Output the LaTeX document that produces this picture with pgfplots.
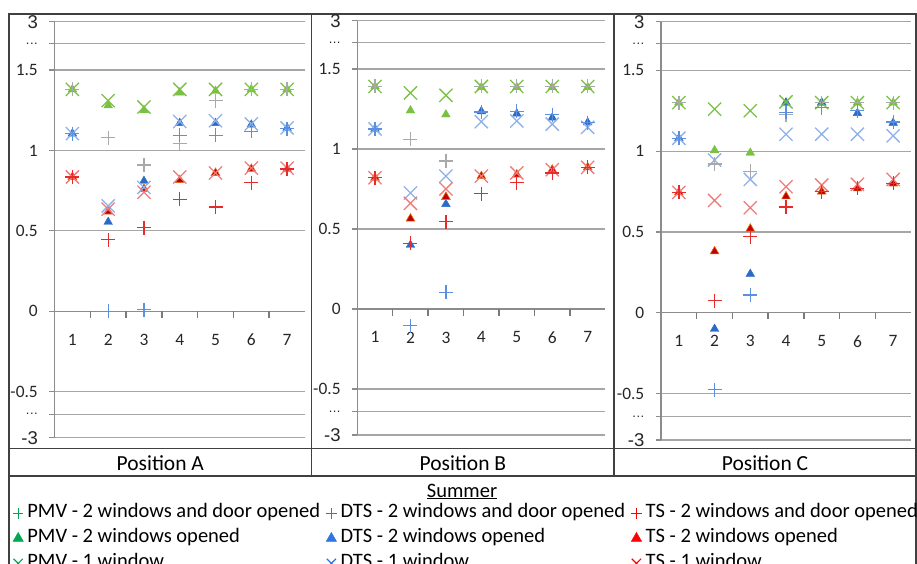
\documentclass[border=0pt]{standalone}
\usepackage{fontspec}
\setmainfont{Carlito}
\newfontfamily\arialf{Liberation Sans}
\usepackage{pgfplots}
\usepackage{pgfplotstable}
\pgfplotsset{compat=1.18}

\definecolor{gridgrey}{HTML}{A6A6A6}
\definecolor{axisgrey}{HTML}{8C8C8C}
\definecolor{tickgrey}{HTML}{7A7A7A}
\definecolor{tablec}{HTML}{404040}
\definecolor{tickc}{HTML}{262626}
\definecolor{pmvplus}{HTML}{A9A9A9}
\definecolor{pmvgreen}{HTML}{7AC143}
\definecolor{dtsplus}{HTML}{5B8FE0}
\definecolor{dtstri}{HTML}{2A6AC8}
\definecolor{dtsx}{HTML}{8EB1EA}
\definecolor{tsplus}{HTML}{E82A2A}
\definecolor{tstri}{HTML}{C00000}
\definecolor{tstriedge}{HTML}{E86A10}
\definecolor{tsx}{HTML}{F07A7A}
\definecolor{leggreen}{HTML}{00A651}
\definecolor{legblue}{HTML}{2F74E0}
\definecolor{legred}{HTML}{FF0000}

\newcommand{\tdots}{{\arialf\fontsize{13}{14}\selectfont .\kern0.5pt.\kern0.5pt.}}
\newcommand{\bigar}[1]{{\arialf\fontsize{18.5}{20}\selectfont #1}}

\pgfplotstableread{
x pmvp pmvt pmvx dtsp dtst dtsx tsp tst tsx
1 1.38 1.38 1.38 1.105 1.105 1.105 0.835 0.835 0.835
2 1.08 1.28 1.31 0.0 0.555 0.655 0.445 0.62 0.635
3 0.91 1.25 1.27 0.01 0.81 0.77 0.52 0.76 0.74
4 1.045 1.36 1.38 1.095 1.17 1.18 0.695 0.815 0.835
5 1.31 1.37 1.38 1.095 1.17 1.185 0.648 0.86 0.86
6 1.38 1.38 1.38 1.12 1.16 1.165 0.80 0.885 0.89
7 1.38 1.38 1.38 1.135 1.14 1.14 0.885 0.885 0.89
}\tableA
\pgfplotstableread{
x pmvp pmvt pmvx dtsp dtst dtsx tsp tst tsx
1 1.39 1.39 1.39 1.125 1.125 1.125 0.82 0.82 0.82
2 1.06 1.24 1.35 -0.105 0.40 0.725 0.41 0.565 0.66
3 0.925 1.215 1.335 0.105 0.655 0.83 0.545 0.70 0.75
4 1.39 1.385 1.39 1.23 1.235 1.17 0.72 0.83 0.83
5 1.39 1.385 1.39 1.235 1.22 1.175 0.79 0.84 0.85
6 1.39 1.385 1.39 1.215 1.195 1.155 0.85 0.87 0.87
7 1.39 1.385 1.39 1.165 1.165 1.135 0.885 0.885 0.885
}\tableB
\pgfplotstableread{
x pmvp pmvt pmvx dtsp dtst dtsx tsp tst tsx
1 1.30 1.30 1.30 1.08 1.08 1.08 0.745 0.745 0.745
2 0.92 1.005 1.26 -0.475 -0.10 0.945 0.075 0.38 0.695
3 0.875 0.99 1.25 0.11 0.24 0.825 0.47 0.52 0.65
4 1.225 1.30 1.305 1.24 1.30 1.105 0.655 0.72 0.78
5 1.30 1.30 1.30 1.27 1.30 1.105 0.75 0.75 0.79
6 1.30 1.30 1.30 1.25 1.235 1.105 0.77 0.77 0.795
7 1.30 1.30 1.30 1.18 1.175 1.095 0.80 0.80 0.825
}\tableC

\pgfplotsset{
  panel/.style={
    scale only axis, anchor=south west, clip=false,
    xmin=0.5, xmax=7.5, ymin=-0.787, ymax=1.801,
    axis x line*=middle, axis y line*=left,
    hide obscured x ticks=false,
    tick align=outside, major tick length=5.5pt,
    xtick={1,2,3,4,5,6,7},
    major x tick style={draw=none},
    ytick={-0.787,-0.641,-0.5,0,0.5,1,1.5,1.666,1.801},
    yticklabels={\bigar{-3},\tdots,-0.5,0,0.5,1,1.5,\tdots,\bigar{3}},
    ymajorgrids, grid style={gridgrey, line width=1.3pt},
    axis line style={axisgrey, line width=1.3pt},
    tick style={axisgrey, line width=1.3pt},
    ticklabel style={font=\fontsize{17.4}{20}\selectfont, text=tickc},
    yticklabel style={inner sep=0pt, anchor=east, xshift=-11pt},
    xticklabel style={inner sep=0pt, anchor=north, yshift=-17pt},
    /pgf/number format/assume math mode=true,
  },
  stri/.style={only marks, mark=triangle*, mark size=5pt, forget plot},
  sx/.style={only marks, mark=x, mark size=9.3pt, line width=1.3pt, forget plot},
  splus/.style={only marks, mark=+, mark size=7pt, line width=1.3pt, forget plot},
}

\newcommand{\panelplots}[1]{%
  \draw[tickgrey, line width=1.5pt]
    (axis cs:1.5,0) -- ++(0pt,-6.5pt)
    (axis cs:2.5,0) -- ++(0pt,-6.5pt)
    (axis cs:3.5,0) -- ++(0pt,-6.5pt)
    (axis cs:4.5,0) -- ++(0pt,-6.5pt)
    (axis cs:5.5,0) -- ++(0pt,-6.5pt)
    (axis cs:6.5,0) -- ++(0pt,-6.5pt);
  \addplot[stri, color=pmvgreen] table[x=x, y=pmvt] {#1};
  \addplot[stri, color=dtstri] table[x=x, y=dtst] {#1};
  \addplot[stri, draw=tstriedge, fill=tstri, mark options={line width=0.6pt}] table[x=x, y=tst] {#1};
  \addplot[sx, color=pmvgreen] table[x=x, y=pmvx] {#1};
  \addplot[sx, color=dtsx] table[x=x, y=dtsx] {#1};
  \addplot[sx, color=tsx] table[x=x, y=tsx] {#1};
  \addplot[splus, draw=pmvplus, mark options={draw=pmvplus}] table[x=x, y=pmvp] {#1};
  \addplot[splus, color=dtsplus] table[x=x, y=dtsp] {#1};
  \addplot[splus, color=tsplus] table[x=x, y=tsp] {#1};
}

\begin{document}
\begin{tikzpicture}
\draw[tablec, line width=1.2pt] (9pt,-600pt) -- (9pt,-14pt) -- (916pt,-14pt) -- (916pt,-600pt);
\draw[tablec, line width=1.2pt] (9pt,-448.3pt) -- (916pt,-448.3pt);
\draw[tablec, line width=1.2pt] (9pt,-476pt) -- (916pt,-476pt);
\draw[tablec, line width=1.2pt] (311.7pt,-14pt) -- (311.7pt,-476pt);
\draw[tablec, line width=1.2pt] (614pt,-14pt) -- (614pt,-476pt);

\begin{axis}[panel, at={(54.5pt,-437.7pt)}, width=250.5pt, height=416pt]
\panelplots{\tableA}
\end{axis}

\begin{axis}[panel, at={(357.3pt,-435pt)}, width=248.1pt, height=414.3pt]
\panelplots{\tableB}
\end{axis}

\begin{axis}[panel, at={(661pt,-440pt)}, width=250pt, height=418.3pt]
\panelplots{\tableC}
\end{axis}

% legend
\begin{axis}[hide axis, scale only axis, width=1pt, height=1pt,
  xmin=0, xmax=1, ymin=0, ymax=1,
  at={(13pt,-503.7pt)}, anchor=south west,
  legend columns=3,
  legend style={at={(0,1)}, anchor=north west, draw=none, fill=none,
    inner sep=0pt, outer sep=0pt,
    font=\fontsize{20.5}{24}\selectfont, row sep=0pt,
    nodes={inner sep=0pt, text height=15pt, text depth=10pt},
    /tikz/every even column/.append style={column sep=6pt},
    /tikz/every odd column/.append style={column sep=4pt}},
  legend cell align=left,
  legend image code/.code={\draw[mark repeat=2,mark phase=2,#1] plot coordinates {(0pt,1.8pt) (5pt,1.8pt) (10pt,1.8pt)};},
]
\addlegendimage{only marks, mark=+, mark size=5.2pt, line width=1.4pt, draw=leggreen, mark options={draw=leggreen}}
\addlegendentry{PMV - 2 windows and door opened}
\addlegendimage{only marks, mark=+, mark size=5.2pt, line width=1.5pt, draw=legblue, mark options={draw=legblue}}
\addlegendentry{DTS - 2 windows and door opened}
\addlegendimage{only marks, mark=+, mark size=5.2pt, line width=1.4pt, draw=legred, mark options={draw=legred}}
\addlegendentry{TS - 2 windows and door opened}
\addlegendimage{only marks, mark=triangle*, mark size=6pt, draw=leggreen, fill=leggreen, mark options={draw=leggreen, fill=leggreen}}
\addlegendentry{PMV - 2 windows opened}
\addlegendimage{only marks, mark=triangle*, mark size=6pt, draw=legblue, fill=legblue, mark options={draw=legblue, fill=legblue}}
\addlegendentry{DTS - 2 windows opened}
\addlegendimage{only marks, mark=triangle*, mark size=6pt, draw=legred, fill=legred, mark options={draw=legred, fill=legred}}
\addlegendentry{TS - 2 windows opened}
\addlegendimage{only marks, mark=x, mark size=6.5pt, line width=1.2pt, draw=leggreen, mark options={draw=leggreen}}
\addlegendentry{PMV - 1 window}
\addlegendimage{only marks, mark=x, mark size=6.5pt, line width=1.2pt, draw=legblue, mark options={draw=legblue}}
\addlegendentry{DTS - 1 window}
\addlegendimage{only marks, mark=x, mark size=6.5pt, line width=1.2pt, draw=legred, mark options={draw=legred}}
\addlegendentry{TS - 1 window}
\end{axis}

\node[anchor=base, font=\fontsize{21.5}{24}\selectfont] at (160.3pt,-470pt) {Position A};
\node[anchor=base, font=\fontsize{21.5}{24}\selectfont] at (462.9pt,-470pt) {Position B};
\node[anchor=base, font=\fontsize{21.5}{24}\selectfont] at (765pt,-470pt) {Position C};
\node[anchor=base, font=\fontsize{20.5}{24}\selectfont] at (462pt,-497pt) {\underline{Summer}};

\pgfresetboundingbox
\path[use as bounding box] (0pt,0pt) rectangle (917pt,-564pt);
\end{tikzpicture}
\end{document}
